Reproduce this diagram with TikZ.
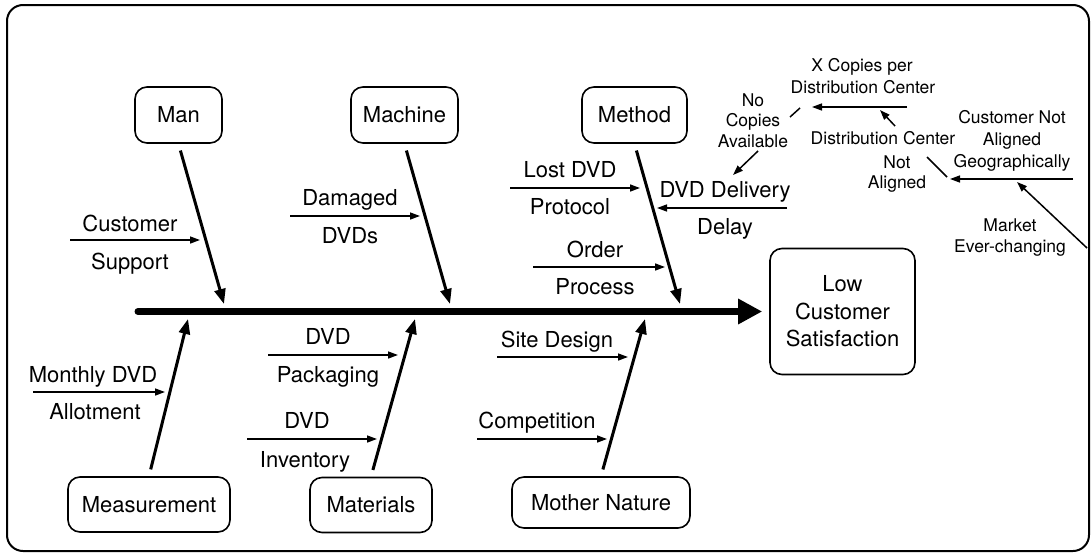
\documentclass[tikz,border=0pt]{standalone}
\usepackage{fontspec}
\setmainfont{TeX Gyre Heros}
\usetikzlibrary{arrows.meta}
\begin{document}
\begin{tikzpicture}[x=1pt,y=-1pt,
  cause/.style={draw, line width=1.6pt, rounded corners=12pt, inner sep=0pt,
    font=\fontsize{22}{27.5}\selectfont},
  lbl/.style={font=\fontsize{22}{26}\selectfont, anchor=base, inner sep=0pt},
  sml/.style={font=\fontsize{17.5}{21}\selectfont, anchor=base, inner sep=0pt},
  bone/.style={line width=3pt, -{Triangle[length=15pt,width=11pt]}, shorten <=7pt},
  sub/.style={line width=1.5pt, -{Triangle[length=10pt,width=7pt]}},
  tick/.style={line width=1.5pt}]
\useasboundingbox (0,0) rectangle (1091,554);
% outer frame
\draw[line width=2pt, rounded corners=16pt] (7,5) rectangle (1089,551);

% category boxes
\node[cause, minimum width=87pt,  minimum height=56pt] (man)     at (178.5,115) {Man};
\node[cause, minimum width=107pt, minimum height=56pt] (machine) at (404.5,115) {Machine};
\node[cause, minimum width=105pt, minimum height=56pt] (method)  at (634.5,115) {Method};
\node[cause, minimum width=162pt, minimum height=55pt] (meas)    at (149,504.5) {Measurement};
\node[cause, minimum width=122pt, minimum height=55pt] (mat)     at (371,505) {Materials};
\node[cause, minimum width=178pt, minimum height=51pt] (nature)  at (601,502.5) {Mother Nature};
\node[cause, minimum width=145pt, minimum height=126pt, align=center] (effect) at (842.5,311.5)
  {Low\\Customer\\Satisfaction};

% spine
\coordinate (tail) at (138,311.5);
\draw[line width=7pt, line cap=round, -{Triangle[length=24pt,width=24pt]}, shorten >=7pt]
  (tail) -- (effect.west);

% bones
\coordinate (bMan) at (224,304);
\coordinate (bMachine) at (450,304);
\coordinate (bMethod) at (680,304);
\coordinate (bMeas) at (188,319);
\coordinate (bMat) at (415,319);
\coordinate (bNature) at (645,319);
\draw[bone] (man.south) -- (bMan);
\draw[bone] (machine.south) -- (bMachine);
\draw[bone] (method.south) -- (bMethod);
\draw[bone] (meas.north) -- (bMeas);
\draw[bone] (mat.north) -- (bMat);
\draw[bone] (nature.north) -- (bNature);

% sub-causes
\coordinate (s1a) at (70,240);  \coordinate (s1b) at (200,240);
\draw[sub] (s1a) -- (s1b);
\node[lbl] (cust) at (130,231) {Customer};
\node[lbl] (supp) at (130,269) {Support};

\coordinate (s2a) at (290,216); \coordinate (s2b) at (420,216);
\draw[sub] (s2a) -- (s2b);
\node[lbl] (dam) at (350,205) {Damaged};
\node[lbl] (dvds) at (350,243) {DVDs};

\coordinate (s3a) at (510,188); \coordinate (s3b) at (640,188);
\draw[sub] (s3a) -- (s3b);
\node[lbl] (lost) at (570,177) {Lost DVD};
\node[lbl] (prot) at (570,214) {Protocol};

\coordinate (s4a) at (787,208); \coordinate (s4b) at (657,208);
\draw[sub] (s4a) -- (s4b);
\node[lbl] (deliv) at (725,197) {DVD Delivery};
\node[lbl] (delay) at (725,234) {Delay};

\coordinate (s5a) at (533,267); \coordinate (s5b) at (665,267);
\draw[sub] (s5a) -- (s5b);
\node[lbl] (order) at (595,257) {Order};
\node[lbl] (proc) at (595,294) {Process};

\coordinate (s6a) at (33,392); \coordinate (s6b) at (165,392);
\draw[sub] (s6a) -- (s6b);
\node[lbl] (month) at (93,382) {Monthly DVD};
\node[lbl] (allot) at (95,419) {Allotment};

\coordinate (s7a) at (268,355); \coordinate (s7b) at (398,355);
\draw[sub] (s7a) -- (s7b);
\node[lbl] (dvdp) at (328,344) {DVD};
\node[lbl] (pack) at (328,382) {Packaging};

\coordinate (s8a) at (247,439); \coordinate (s8b) at (377,439);
\draw[sub] (s8a) -- (s8b);
\node[lbl] (dvdi) at (307,428) {DVD};
\node[lbl] (inv) at (305,467) {Inventory};

\coordinate (s9a) at (497,357); \coordinate (s9b) at (628,357);
\draw[sub] (s9a) -- (s9b);
\node[lbl] (site) at (557,347) {Site Design};

\coordinate (s10a) at (477,439); \coordinate (s10b) at (607,439);
\draw[sub] (s10a) -- (s10b);
\node[lbl] (comp) at (537,428) {Competition};

% deeper causes of the delivery delay
\node[sml] (xc1) at (862,71) {X Copies per};
\node[sml] (xc2) at (863,93) {Distribution Center};
\node[sml] (nc1) at (753,106) {No};
\node[sml] (nc2) at (753,126) {Copies};
\node[sml] (nc3) at (753,147) {Available};
\node[sml] (dc1) at (883,144) {Distribution Center};
\node[sml] (dc2) at (897,168) {Not};
\node[sml] (dc3) at (897,188) {Aligned};
\node[sml] (cn1) at (1012,123) {Customer Not};
\node[sml] (cn2) at (1012,145) {Aligned};
\node[sml] (cn3) at (1012,167) {Geographically};
\node[sml] (mk1) at (1010,231) {Market};
\node[sml] (mk2) at (1010,252) {Ever-changing};

\coordinate (c1a) at (907,107);  \coordinate (c1b) at (812,107);
\draw[sub] (c1a) -- (c1b);
\coordinate (t1a) at (790,117);  \coordinate (t1b) at (800,108);
\draw[tick] (t1a) -- (t1b);
\coordinate (c2a) at (758,151);  \coordinate (c2b) at (733,175);
\draw[sub] (c2a) -- (c2b);
\coordinate (c3a) at (895,126);  \coordinate (c3b) at (880,110);
\draw[sub] (c3a) -- (c3b);
\coordinate (t2a) at (927,157);  \coordinate (t2b) at (947,177);
\draw[tick] (t2a) -- (t2b);
\coordinate (c4a) at (1073,179); \coordinate (c4b) at (950,179);
\draw[sub] (c4a) -- (c4b);
\coordinate (c5a) at (1087,248); \coordinate (c5b) at (1017,182);
\draw[sub] (c5a) -- (c5b);
\end{tikzpicture}
\end{document}
